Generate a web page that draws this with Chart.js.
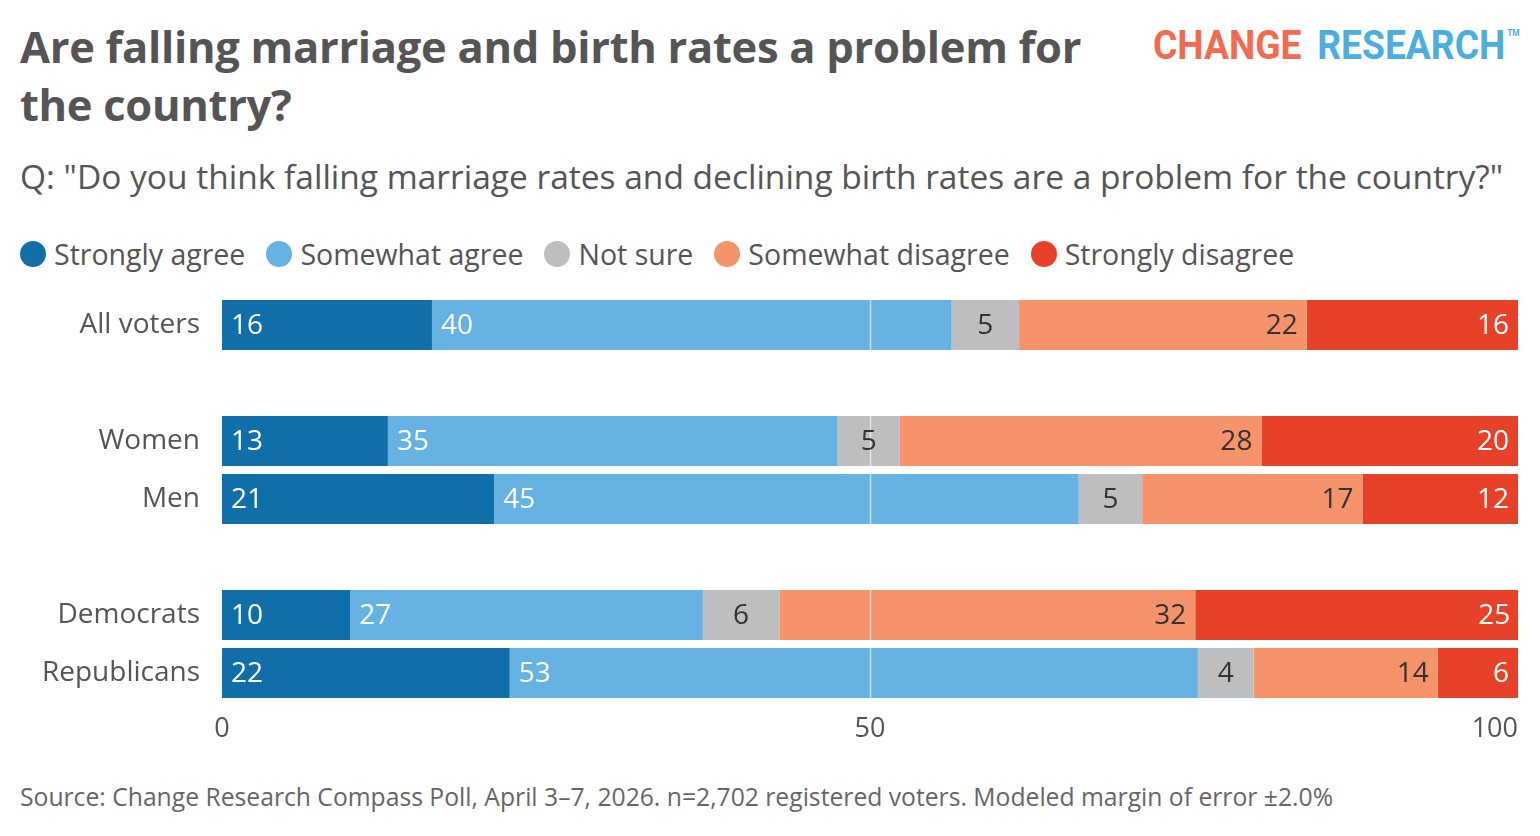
<!DOCTYPE html>
<html>
<head>
<meta charset="utf-8">
<script src="https://cdn.jsdelivr.net/npm/chart.js@4/dist/chart.umd.min.js"></script>
<style>
  body { margin: 0; background: #fff; font-family: "Open Sans", "Noto Sans", sans-serif; color: #555; }
  .wrap { position: relative; width: 1540px; height: 836px; overflow: hidden; }
  .title { position: absolute; left: 20px; top: 18px; font-size: 43.5px; font-weight: 700; line-height: 58px; color: #555; white-space: nowrap; letter-spacing: -0.3px; }
  .logo { position: absolute; left: 1153px; top: 22px; font-family: Roboto, sans-serif; font-weight: 700; font-size: 40px; white-space: nowrap; transform: scaleX(0.93); transform-origin: left top; }
  .logo .c { color: #f26b50; }
  .logo .r { color: #4aaee0; margin-left: 17px; }
  .logo sup { font-size: 9px; color: #4aaee0; vertical-align: top; position: relative; top: 6px; margin-left: 2px; }
  .sub { position: absolute; left: 20px; top: 153px; font-size: 33.5px; color: #555; white-space: nowrap; }
  .legend { position: absolute; left: 20px; top: 235px; font-size: 28.5px; display: flex; white-space: nowrap; }
  .legend span { display: inline-flex; align-items: center; margin-right: 21px; }
  .legend i { display: inline-block; width: 26px; height: 26px; border-radius: 50%; margin-right: 8px; }
  .source { position: absolute; left: 20px; top: 780px; font-size: 24.7px; color: #666; white-space: nowrap; }
  #holder { position: absolute; left: 0; top: 296px; width: 1540px; height: 460px; }
</style>
</head>
<body>
<div class="wrap">
  <div class="title">Are falling marriage and birth rates a problem for<br>the country?</div>
  <div class="logo"><span class="c">CHANGE</span><span class="r">RESEARCH</span><sup>TM</sup></div>
  <div class="sub">Q: "Do you think falling marriage rates and declining birth rates are a problem for the country?"</div>
  <div class="legend" id="legend"></div>
  <div id="holder"><canvas id="chart"></canvas></div>
  <div class="source">Source: Change Research Compass Poll, April 3–7, 2026. n=2,702 registered voters. Modeled margin of error ±2.0%</div>
</div>
<script>
// groups, blank rows are spacers
const groups = ['All voters', '', 'Women', 'Men', '', 'Democrats', 'Republicans']
const seriesNames = ['Strongly agree', 'Somewhat agree', 'Not sure', 'Somewhat disagree', 'Strongly disagree']
const seriesColors = ['#106fa8', '#66b3e3', '#bdbec0', '#f7936a', '#e8412a']
const labelColors = ['#fff', '#fff', '#333', '#333', '#fff']

// bar lengths
const stronglyAgree = [16.2, null, 12.8, 21.0, null, 9.9, 22.2]
const somewhatAgree = [40.1, null, 34.7, 45.1, null, 27.2, 53.1]
const notSure = [5.2, null, 4.8, 4.9, null, 5.9, 4.3]
const somewhatDisagree = [22.2, null, 27.9, 17.0, null, 32.1, 14.2]
const stronglyDisagree = [16.3, null, 19.8, 12.0, null, 25.0, 6.2]

// printed labels
const labStronglyAgree = [16, null, 13, 21, null, 10, 22]
const labSomewhatAgree = [40, null, 35, 45, null, 27, 53]
const labNotSure = [5, null, 5, 5, null, 6, 4]
const labSomewhatDisagree = [22, null, 28, 17, null, 32, 14]
const labStronglyDisagree = [16, null, 20, 12, null, 25, 6]

const xTicks = [0, 50, 100]

const values = [stronglyAgree, somewhatAgree, notSure, somewhatDisagree, stronglyDisagree]
const printed = [labStronglyAgree, labSomewhatAgree, labNotSure, labSomewhatDisagree, labStronglyDisagree]

const legendEl = document.getElementById('legend')
seriesNames.forEach((n, i) => {
    legendEl.insertAdjacentHTML('beforeend', `<span><i style="background:${seriesColors[i]}"></i>${n}</span>`)
})

const FONT = '"Open Sans", "Noto Sans", sans-serif'

// numbers inside the bars + white line at 50 + x tick labels
const barText = {
    id: 'barText',
    afterDatasetsDraw(chart) {
        const ctx = chart.ctx
        const area = chart.chartArea
        const xs = chart.scales.x

        // white grid line over the bars
        ctx.save()
        ctx.strokeStyle = 'rgba(255,255,255,0.6)'
        ctx.lineWidth = 1.5
        const gx = Math.round(xs.getPixelForValue(50)) + 0.5
        ctx.beginPath()
        ctx.moveTo(gx, area.top)
        ctx.lineTo(gx, area.bottom)
        ctx.stroke()

        ctx.font = '28px ' + FONT
        ctx.textBaseline = 'middle'
        chart.data.datasets.forEach((ds, di) => {
            const meta = chart.getDatasetMeta(di)
            meta.data.forEach((bar, i) => {
                const lab = printed[di][i]
                if (lab == null) return
                ctx.fillStyle = labelColors[di]
                const left = Math.min(bar.base, bar.x)
                const right = Math.max(bar.base, bar.x)
                if (di < 2) {
                    ctx.textAlign = 'left'
                    ctx.fillText(lab, left + 9, bar.y + 1)
                } else if (di == 2) {
                    ctx.textAlign = 'center'
                    ctx.fillText(lab, (left + right) / 2, bar.y + 1)
                } else {
                    ctx.textAlign = 'right'
                    ctx.fillText(lab, right - 9, bar.y + 1)
                }
            })
        })

        ctx.fillStyle = '#555'
        ctx.font = '27px ' + FONT
        xTicks.forEach((t, i) => {
            const px = xs.getPixelForValue(t)
            ctx.textAlign = i == xTicks.length - 1 ? 'right' : 'center'
            ctx.fillText(t, px, area.bottom + 27)
        })
        ctx.restore()
    }
}

new Chart(document.getElementById('chart'), {
    type: 'bar',
    data: {
        labels: groups,
        datasets: seriesNames.map((n, i) => ({
            label: n,
            data: values[i],
            backgroundColor: seriesColors[i],
            borderWidth: 0,
            barPercentage: 1,
            categoryPercentage: 50 / 58
        }))
    },
    options: {
        indexAxis: 'y',
        responsive: true,
        maintainAspectRatio: false,
        animation: false,
        layout: { padding: { left: 0, right: 22, top: 0, bottom: 54 } },
        plugins: { legend: { display: false }, tooltip: { enabled: false } },
        scales: {
            x: {
                stacked: true, min: 0, max: 100, display: false
            },
            y: {
                stacked: true,
                grid: { display: false, drawTicks: false },
                border: { display: false },
                ticks: { color: '#555', padding: 22, font: { family: FONT, size: 28 } },
                afterFit: (scale) => {
                    scale.width = 222
                    // tick padding would otherwise push the plot down
                    scale.paddingTop = 0
                    scale.paddingBottom = 0
                }
            }
        }
    },
    plugins: [barText]
})
</script>
</body>
</html>
